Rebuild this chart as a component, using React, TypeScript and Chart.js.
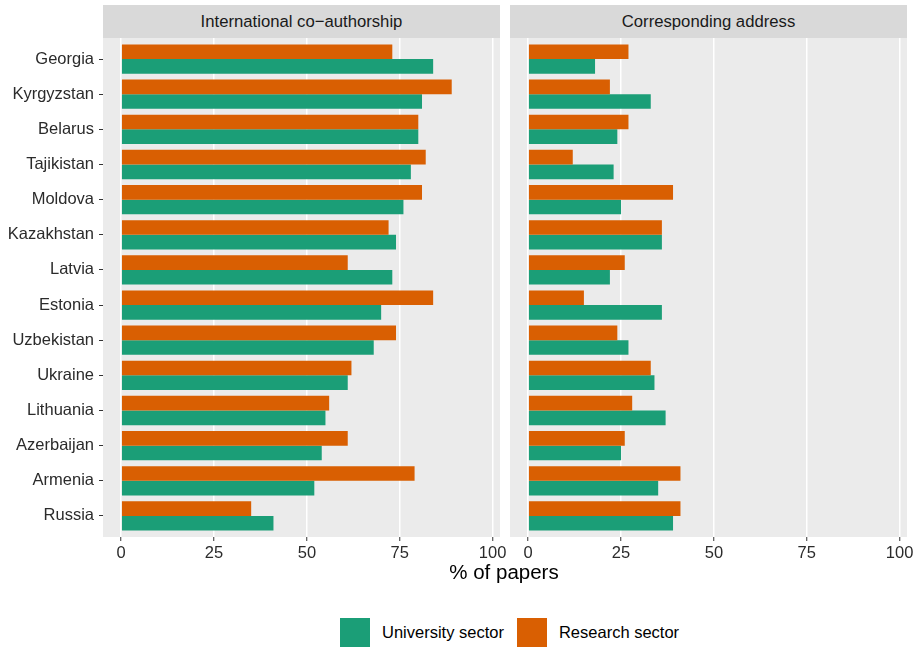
import React, { useEffect, useRef } from "react";
import { Chart, registerables } from "chart.js";

Chart.register(...registerables);

const countries = [
  "Georgia", "Kyrgyzstan", "Belarus", "Tajikistan", "Moldova", "Kazakhstan", "Latvia",
  "Estonia", "Uzbekistan", "Ukraine", "Lithuania", "Azerbaijan", "Armenia", "Russia",
];
const panelTitles = ["International co\u2212authorship", "Corresponding address"];
const seriesNames = ["University sector", "Research sector"];
const seriesColors = ["#1B9E77", "#D95F02"];
const xTicks = [0, 25, 50, 75, 100];
const axisTitle = "% of papers";

const intlUniversity = [84, 81, 80, 78, 76, 74, 73, 70, 68, 61, 55, 54, 52, 41];
const intlResearch = [73, 89, 80, 82, 81, 72, 61, 84, 74, 62, 56, 61, 79, 35];
const corrUniversity = [18, 33, 24, 23, 25, 36, 22, 36, 27, 34, 37, 25, 35, 39];
const corrResearch = [27, 22, 27, 12, 39, 36, 26, 15, 24, 33, 28, 26, 41, 41];

const FONT = "'Liberation Sans', Arial, Helvetica, sans-serif";
const TICK_TEXT = "#2B2B2B";

const bgPlugin = {
  id: "panelBg",
  beforeDraw(chart: any) {
    const { ctx, chartArea } = chart;
    ctx.save();
    ctx.fillStyle = "#EBEBEB";
    ctx.fillRect(chartArea.left, chartArea.top, chartArea.right - chartArea.left, chartArea.bottom - chartArea.top);
    ctx.restore();
  },
};

function makeConfig(univ: number[], res: number[], showY: boolean, padding: any): any {
  return {
    type: "bar",
    data: {
      datasets: [
        {
          label: seriesNames[1],
          data: res.map((v, i) => ({ x: v, y: i })),
          backgroundColor: seriesColors[1],
          borderWidth: 0,
        },
        {
          label: seriesNames[0],
          data: univ.map((v, i) => ({ x: v, y: i })),
          backgroundColor: seriesColors[0],
          borderWidth: 0,
        },
      ],
    },
    options: {
      indexAxis: "y",
      animation: false,
      responsive: false,
      events: [],
      layout: { padding },
      datasets: { bar: { categoryPercentage: 0.833, barPercentage: 1 } },
      plugins: { legend: { display: false }, tooltip: { enabled: false } },
      scales: {
        x: {
          type: "linear",
          position: "bottom",
          min: -4.9,
          max: 102,
          offset: false,
          afterBuildTicks: (s: any) => {
            s.ticks = xTicks.map((v) => ({ value: v }));
          },
          afterFit: (s: any) => {
            s.height = 35;
            s.paddingLeft = 0;
            s.paddingRight = 0;
          },
          grid: { color: "#FFFFFF", lineWidth: 1.5, tickColor: "#333333", tickLength: 4, tickWidth: 1, offset: false },
          border: { display: false },
          ticks: {
            color: TICK_TEXT,
            font: { family: FONT, size: 16.5 },
            padding: 3,
            maxRotation: 0,
            autoSkip: false,
          },
        },
        y: {
          type: "linear",
          reverse: true,
          min: -0.6,
          max: 13.6,
          offset: false,
          display: showY,
          afterBuildTicks: (s: any) => {
            s.ticks = countries.map((_, i) => ({ value: i }));
          },
          afterFit: (s: any) => {
            if (showY) s.width = 103;
            s.paddingTop = 0;
            s.paddingBottom = 0;
          },
          grid: { drawOnChartArea: false, offset: false, color: "#333333", tickColor: "#333333", tickLength: 4, tickWidth: 1 },
          border: { display: false },
          ticks: {
            callback: (v: any) => countries[v] ?? "",
            color: TICK_TEXT,
            font: { family: FONT, size: 16.5 },
            padding: 5,
            autoSkip: false,
          },
        },
      },
    },
    plugins: [bgPlugin],
  };
}

export default function App() {
  const leftRef = useRef<HTMLCanvasElement>(null);
  const rightRef = useRef<HTMLCanvasElement>(null);

  useEffect(() => {
    const c1 = new Chart(leftRef.current as HTMLCanvasElement, makeConfig(intlUniversity, intlResearch, true, { left: 0, right: 10, top: 0, bottom: 0 }));
    const c2 = new Chart(rightRef.current as HTMLCanvasElement, makeConfig(corrUniversity, corrResearch, false, { left: 5, right: 11, top: 0, bottom: 0 }));
    return () => {
      c1.destroy();
      c2.destroy();
    };
  }, []);

  const stripStyle = (left: number): React.CSSProperties => ({
    position: "absolute",
    left,
    top: 5,
    width: 397,
    height: 33,
    background: "#D9D9D9",
    display: "flex",
    alignItems: "center",
    justifyContent: "center",
    fontSize: 16.7,
    color: "#1A1A1A",
  });

  return (
    <div style={{ position: "fixed", left: 0, top: 0, width: 918, height: 647, background: "#FFFFFF", fontFamily: FONT, overflow: "hidden" }}>
      <div style={stripStyle(103)}>{panelTitles[0]}</div>
      <div style={stripStyle(510)}>{panelTitles[1]}</div>
      <canvas ref={leftRef} width={510} height={534} style={{ position: "absolute", left: 0, top: 38, width: 510, height: 534, display: "block" }} />
      <canvas ref={rightRef} width={413} height={534} style={{ position: "absolute", left: 505, top: 38, width: 413, height: 534, display: "block" }} />
      <div style={{ position: "absolute", left: 354, top: 562, width: 300, textAlign: "center", fontSize: 20.5, lineHeight: "20.5px", color: "#000" }}>{axisTitle}</div>
      <div style={{ position: "absolute", left: 340, top: 618, height: 29, display: "flex", alignItems: "center" }}>
        {[0, 1].map((i) => (
          <React.Fragment key={i}>
            <div style={{ width: 30, height: 29, background: seriesColors[i] }} />
            <div style={{ marginLeft: 12, marginRight: 13, fontSize: 16.5, lineHeight: "16.5px", color: "#000", whiteSpace: "nowrap" }}>{seriesNames[i]}</div>
          </React.Fragment>
        ))}
      </div>
    </div>
  );
}
